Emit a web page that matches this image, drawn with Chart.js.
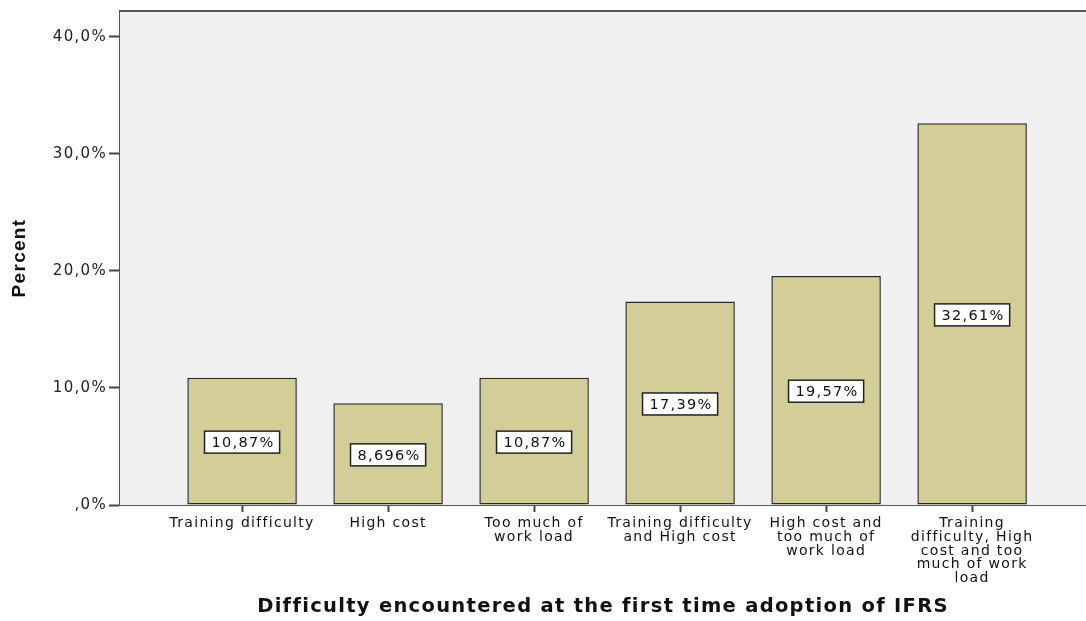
<!DOCTYPE html>
<html>
<head>
<meta charset="utf-8">
<script src="https://cdn.jsdelivr.net/npm/chart.js@4/dist/chart.umd.min.js"></script>
<style>
  body { margin: 0; background: #fff; }
  #wrap { width: 1086px; height: 621px; }
</style>
</head>
<body>
<div id="wrap"><canvas id="chart" width="1086" height="621"></canvas></div>
<script>
const categories = [
  ['Training difficulty'],
  ['High cost'],
  ['Too much of', 'work load'],
  ['Training difficulty', 'and High cost'],
  ['High cost and', 'too much of', 'work load'],
  ['Training', 'difficulty, High', 'cost and too', 'much of work', 'load']
];
const percents = [10.87, 8.696, 10.87, 17.39, 19.57, 32.61];
const valueLabels = ['10,87%', '8,696%', '10,87%', '17,39%', '19,57%', '32,61%'];
const yTicks = [0, 10, 20, 30, 40];
const yTickLabels = [',0%', '10,0%', '20,0%', '30,0%', '40,0%'];

// SPSS-like wide text
const spacing = '1.3px';

const frame = {
  id: 'frame',
  beforeLayout(chart) {
    chart.ctx.letterSpacing = spacing;
  },
  beforeDraw(chart) {
    chart.ctx.letterSpacing = spacing;
  },
  beforeDatasetsDraw(chart) {
    const { ctx, chartArea: a } = chart;
    ctx.save();
    ctx.fillStyle = '#f0f0f0';
    ctx.fillRect(a.left, a.top, a.right - a.left, a.bottom - a.top);
    ctx.strokeStyle = '#555';
    ctx.lineWidth = 2;
    ctx.beginPath();
    ctx.moveTo(a.left, a.top);
    ctx.lineTo(a.right, a.top);
    ctx.stroke();
    ctx.restore();
  },
  afterDatasetsDraw(chart) {
    const { ctx } = chart;
    const meta = chart.getDatasetMeta(0);
    ctx.save();
    ctx.font = '14.5px "DejaVu Sans"';
    ctx.letterSpacing = spacing;
    ctx.textAlign = 'center';
    ctx.textBaseline = 'middle';
    meta.data.forEach((bar, i) => {
      const { x, y, base } = bar.getProps(['x', 'y', 'base'], true);
      const cy = (y + base) / 2 + 1;
      const txt = valueLabels[i];
      const w = ctx.measureText(txt).width + 12;
      const h = 22;
      ctx.fillStyle = '#fff';
      ctx.fillRect(x - w / 2, cy - h / 2, w, h);
      ctx.strokeStyle = '#222';
      ctx.lineWidth = 1.5;
      ctx.strokeRect(x - w / 2, cy - h / 2, w, h);
      ctx.fillStyle = '#111';
      ctx.fillText(txt, x + 1, cy + 1);
    });
    ctx.restore();
  }
};

new Chart(document.getElementById('chart'), {
  type: 'bar',
  data: {
    datasets: [{
      data: percents.map((v, i) => ({ x: i, y: v })),
      backgroundColor: '#d3ce97',
      borderColor: '#2b2b2b',
      borderWidth: 1.5,
      borderSkipped: false,
      barPercentage: 0.75,
      categoryPercentage: 1
    }]
  },
  plugins: [frame],
  options: {
    responsive: false,
    animation: false,
    layout: { padding: { top: 8, right: 0, left: 0, bottom: 0 } },
    plugins: { legend: { display: false }, tooltip: { enabled: false } },
    scales: {
      x: {
        type: 'linear',
        offset: false,
        min: -0.836,
        max: 5.78,
        afterBuildTicks: s => { s.ticks = categories.map((c, i) => ({ value: i })); },
        afterFit: s => { s.height = 116; },
        grid: { offset: false, drawOnChartArea: false, drawTicks: true, tickLength: 7, tickColor: '#444', tickWidth: 2 },
        border: { color: '#555', width: 2 },
        ticks: {
          autoSkip: false,
          maxRotation: 0,
          padding: 5,
          color: '#111',
          font: { family: 'DejaVu Sans', size: 14, lineHeight: 0.97 },
          callback: v => categories[v]
        },
        title: {
          display: true,
          text: 'Difficulty encountered at the first time adoption of IFRS',
          color: '#111',
          font: { family: 'DejaVu Sans', size: 19.5, weight: 'bold' },
          padding: { top: 0, bottom: 2 }
        }
      },
      y: {
        min: 0,
        max: 42.2,
        afterBuildTicks: s => { s.ticks = yTicks.map(v => ({ value: v })); },
        afterFit: s => { s.width = 120; },
        grid: { drawOnChartArea: false, drawTicks: true, tickLength: 11, tickColor: '#444', tickWidth: 2 },
        border: { color: '#555', width: 2 },
        ticks: {
          padding: 2,
          color: '#222',
          font: { family: 'DejaVu Sans', size: 15 },
          callback: v => yTickLabels[yTicks.indexOf(v)]
        },
        title: {
          display: true,
          text: 'Percent',
          color: '#111',
          font: { family: '"Liberation Sans Narrow", "Liberation Sans"', size: 19, weight: 'bold' },
          padding: { top: 8, bottom: 0 }
        }
      }
    }
  }
});
</script>
</body>
</html>
